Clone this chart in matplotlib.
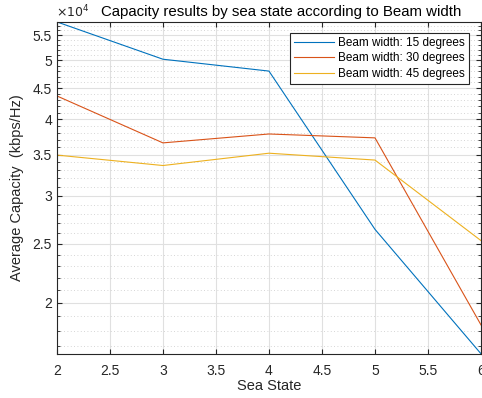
import matplotlib.pyplot as plt
from matplotlib.ticker import FixedLocator, FuncFormatter, MultipleLocator

plt.rcParams['font.family'] = ['Liberation Sans', 'DejaVu Sans']

sea_state = [2, 3, 4, 5, 6]
cap_15 = [57800, 50200, 48000, 26400, 16500]
cap_30 = [43700, 36600, 37850, 37300, 18400]
cap_45 = [34950, 33600, 35200, 34300, 25300]
labels = ['Beam width: 15 degrees', 'Beam width: 30 degrees', 'Beam width: 45 degrees']
y_major = [20000, 25000, 30000, 35000, 40000, 45000, 50000, 55000]
y_minor = [v * 1000 for v in range(16, 58)]

dark = '#262626'
fig = plt.figure(figsize=(4.82, 3.98), dpi=100)
ax = fig.add_axes([0.118, 0.111, 0.880, 0.834])

ax.plot(sea_state, cap_15, color='#0072BD', lw=0.8, label=labels[0])
ax.plot(sea_state, cap_30, color='#D95319', lw=0.8, label=labels[1])
ax.plot(sea_state, cap_45, color='#EDB120', lw=0.8, label=labels[2])

ax.set_yscale('log')
ax.set_xlim(2, 6)
ax.set_ylim(16500, 57800)
ax.yaxis.set_major_locator(FixedLocator(y_major))
ax.yaxis.set_minor_locator(FixedLocator(y_minor))
ax.yaxis.set_major_formatter(FuncFormatter(lambda v, p: '%g' % (v / 1e4)))
ax.yaxis.set_minor_formatter(FuncFormatter(lambda v, p: ''))
ax.xaxis.set_major_locator(MultipleLocator(0.5))
ax.xaxis.set_major_formatter(FuncFormatter(lambda v, p: '%g' % v))

ax.grid(True, which='major', color='#e0e0e0', lw=0.8, ls='-')
ax.grid(True, which='minor', axis='y', color='#c8c8c8', lw=0.6, ls=(0, (1, 3)))
ax.set_axisbelow(True)

for s in ax.spines.values():
    s.set_color(dark)
    s.set_linewidth(0.8)
ax.tick_params(which='both', direction='in', top=True, right=True, colors=dark,
               labelsize=10, labelcolor=dark)
ax.tick_params(which='major', length=3.5)
ax.tick_params(which='minor', length=2)
ax.tick_params(axis='x', pad=7)

ax.set_xlabel('Sea State', fontsize=10.5, color=dark, labelpad=1)
ax.set_ylabel('Average Capacity  (kbps/Hz)', fontsize=10.5, color=dark, labelpad=6)
ax.set_title('Capacity results by sea state according to Beam width', fontsize=10.8,
             color='black', pad=4, x=0.53)
fig.text(0.116, 0.948, r'$\times10^4$', fontsize=9, color=dark, ha='left', va='bottom')

leg = ax.legend(loc='upper right', fontsize=8.5, fancybox=False, framealpha=1,
                edgecolor=dark, borderpad=0.35, labelspacing=0.3, handlelength=3.4,
                handletextpad=0.3, bbox_to_anchor=(0.985, 0.985))
leg.get_frame().set_linewidth(0.8)

fig.savefig('out.png', dpi=100)
